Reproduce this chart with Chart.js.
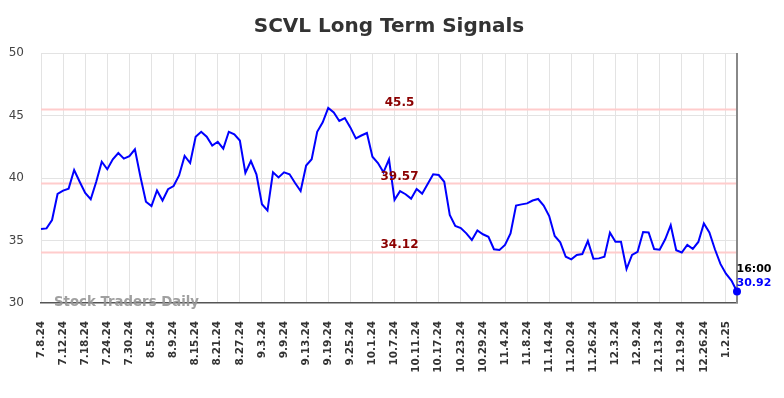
<!DOCTYPE html>
<html>
<head>
<meta charset="utf-8">
<script src="https://cdn.jsdelivr.net/npm/chart.js@4.4.1/dist/chart.umd.min.js"></script>
<style>
html,body{margin:0;padding:0;background:#fff;}
#wrap{width:784px;height:398px;}
</style>
</head>
<body>
<div id="wrap"><canvas id="c" width="784" height="398"></canvas></div>
<script>
// ---- data ----
const categories = [
 "7.8.24","7.9.24","7.10.24","7.11.24","7.12.24","7.15.24","7.16.24","7.17.24","7.18.24","7.19.24",
 "7.22.24","7.23.24","7.24.24","7.25.24","7.26.24","7.29.24","7.30.24","7.31.24",
 "8.1.24","8.2.24","8.5.24","8.6.24","8.7.24","8.8.24","8.9.24","8.12.24","8.13.24","8.14.24","8.15.24","8.16.24",
 "8.19.24","8.20.24","8.21.24","8.22.24","8.23.24","8.26.24","8.27.24","8.28.24","8.29.24","8.30.24",
 "9.3.24","9.4.24","9.5.24","9.6.24","9.9.24","9.10.24","9.11.24","9.12.24","9.13.24","9.16.24",
 "9.17.24","9.18.24","9.19.24","9.20.24","9.23.24","9.24.24","9.25.24","9.26.24","9.27.24","9.30.24",
 "10.1.24","10.2.24","10.3.24","10.4.24","10.7.24","10.8.24","10.9.24","10.10.24","10.11.24","10.14.24",
 "10.15.24","10.16.24","10.17.24","10.18.24","10.21.24","10.22.24","10.23.24","10.24.24","10.25.24","10.28.24",
 "10.29.24","10.30.24","10.31.24",
 "11.1.24","11.4.24","11.5.24","11.6.24","11.7.24","11.8.24","11.11.24","11.12.24","11.13.24","11.14.24",
 "11.15.24","11.18.24","11.19.24","11.20.24","11.21.24","11.22.24","11.25.24","11.26.24","11.27.24","11.29.24",
 "12.2.24","12.3.24","12.4.24","12.5.24","12.6.24","12.9.24","12.10.24","12.11.24","12.12.24","12.13.24",
 "12.16.24","12.17.24","12.18.24","12.19.24","12.20.24","12.23.24","12.24.24","12.26.24","12.27.24","12.30.24",
 "12.31.24","1.2.25","1.3.25","1.6.25"
];
const tickLabels = ["7.8.24","7.12.24","7.18.24","7.24.24","7.30.24","8.5.24","8.9.24","8.15.24","8.21.24","8.27.24",
 "9.3.24","9.9.24","9.13.24","9.19.24","9.25.24","10.1.24","10.7.24","10.11.24","10.17.24","10.23.24","10.29.24",
 "11.4.24","11.8.24","11.14.24","11.20.24","11.26.24","12.3.24","12.9.24","12.13.24","12.19.24","12.26.24","1.2.25"];
const prices = [
 35.92,35.97,36.64,38.72,38.99,39.15,40.64,39.70,38.80,38.30,
 39.70,41.30,40.70,41.50,42.00,41.55,41.75,42.30,40.10,38.10,
 37.75,39.00,38.20,39.10,39.36,40.20,41.76,41.20,43.30,43.70,
 43.30,42.60,42.90,42.35,43.70,43.50,43.00,40.40,41.36,40.30,
 37.90,37.40,40.45,40.05,40.45,40.30,39.60,38.96,41.00,41.50,
 43.70,44.45,45.60,45.25,44.56,44.80,44.05,43.17,43.40,43.60,
 41.70,41.20,40.45,41.50,38.25,38.95,38.70,38.35,39.12,38.75,
 39.52,40.30,40.24,39.70,37.04,36.16,36.00,35.57,35.04,35.80,
 35.50,35.30,34.30,34.24,34.64,35.57,37.80,37.89,37.97,38.20,
 38.32,37.80,36.96,35.36,34.85,33.70,33.49,33.84,33.92,34.96,
 33.55,33.57,33.70,35.63,34.90,34.90,32.72,33.84,34.10,35.68,
 35.64,34.32,34.27,35.10,36.22,34.22,34.04,34.64,34.33,34.88,
 36.37,35.65,34.30,33.13,32.35,31.80,30.92
];
const signalLevels = [45.5, 39.57, 34.12];
const signalLabels = ["45.5", "39.57", "34.12"];
const yTicks = [30, 35, 40, 45, 50];
const titleText = "SCVL Long Term Signals";
const lastTimeText = "16:00";
const watermarkText = "Stock Traders Daily";

const FONT = "'DejaVu Sans', sans-serif";
const lastIdx = prices.length - 1;

const overlay = {
  id: 'overlay',
  beforeDatasetsDraw(chart) {
    const {ctx, chartArea: a, scales: {x, y}} = chart;
    ctx.save();
    ctx.strokeStyle = '#ffcccc';
    ctx.lineWidth = 2;
    signalLevels.forEach(v => {
      const py = Math.round(y.getPixelForValue(v)) + 0.5;
      ctx.beginPath(); ctx.moveTo(a.left, py); ctx.lineTo(a.right, py); ctx.stroke();
    });
    const rx = x.getPixelForValue(lastIdx);
    ctx.strokeStyle = '#888';
    ctx.lineWidth = 2;
    ctx.beginPath(); ctx.moveTo(rx, a.top); ctx.lineTo(rx, a.bottom); ctx.stroke();
    ctx.restore();
  },
  afterDatasetsDraw(chart) {
    const {ctx, chartArea: a, scales: {x, y}} = chart;
    ctx.save();
    ctx.font = "bold 12px " + FONT;
    ctx.fillStyle = '#8b0000';
    ctx.textAlign = 'center';
    ctx.textBaseline = 'alphabetic';
    signalLevels.forEach((v, i) => {
      const py = y.getPixelForValue(v);
      ctx.fillText(signalLabels[i], 399.5, py - 3.5);
    });
    ctx.font = "bold 13.3px " + FONT;
    ctx.fillStyle = 'rgba(150,150,150,0.9)';
    ctx.textAlign = 'left';
    ctx.textBaseline = 'middle';
    ctx.fillText(watermarkText, 54, a.bottom - 0.5);
    const lx = x.getPixelForValue(lastIdx);
    const ly = y.getPixelForValue(prices[lastIdx]);
    ctx.font = "bold 11px " + FONT;
    ctx.textAlign = 'left';
    ctx.textBaseline = 'alphabetic';
    ctx.fillStyle = '#000';
    ctx.fillText(lastTimeText, lx - 0.5, ly - 19.5);
    ctx.fillStyle = '#0000ff';
    ctx.fillText(prices[lastIdx].toFixed(2), lx - 0.5, ly - 6);
    ctx.font = "bold 20px " + FONT;
    ctx.fillStyle = '#333';
    ctx.textAlign = 'center';
    ctx.textBaseline = 'middle';
    ctx.fillText(titleText, 389, 26.5);
    ctx.restore();
  }
};

new Chart(document.getElementById('c'), {
  type: 'line',
  data: {
    labels: categories,
    datasets: [{
      data: prices,
      borderColor: '#0000ff',
      backgroundColor: '#0000ff',
      borderWidth: 2,
      tension: 0,
      fill: false,
      pointRadius: c => c.dataIndex === lastIdx ? 4 : 0,
      pointHoverRadius: 0,
      pointBorderWidth: 0
    }]
  },
  options: {
    responsive: false,
    animation: false,
    events: [],
    layout: { padding: { top: 53, right: 47, left: 0, bottom: 0 } },
    plugins: { legend: { display: false }, title: { display: false }, tooltip: { enabled: false } },
    scales: {
      x: {
        type: 'category',
        offset: false,
        afterFit(s) { s.height = 95; },
        border: { display: true, color: '#555', width: 1.5 },
        grid: { color: '#e3e3e3', lineWidth: 1, drawTicks: false },
        ticks: {
          autoSkip: false,
          minRotation: 90,
          maxRotation: 90,
          padding: 18,
          color: '#333',
          font: { family: FONT, size: 10.5, weight: 'bold' },
          callback(value) {
            const l = this.getLabelForValue(value);
            return tickLabels.includes(l) ? l : null;
          }
        }
      },
      y: {
        min: 30, max: 50,
        afterFit(s) { s.width = 41; },
        afterBuildTicks(s) { s.ticks = yTicks.map(v => ({ value: v })); },
        border: { display: false },
        grid: { color: c => c.tick.value === 30 ? 'rgba(0,0,0,0)' : '#e3e3e3', lineWidth: 1, drawTicks: false },
        ticks: {
          padding: 17,
          color: '#444',
          font: { family: FONT, size: 12 }
        }
      }
    }
  },
  plugins: [overlay]
});
</script>
</body>
</html>
